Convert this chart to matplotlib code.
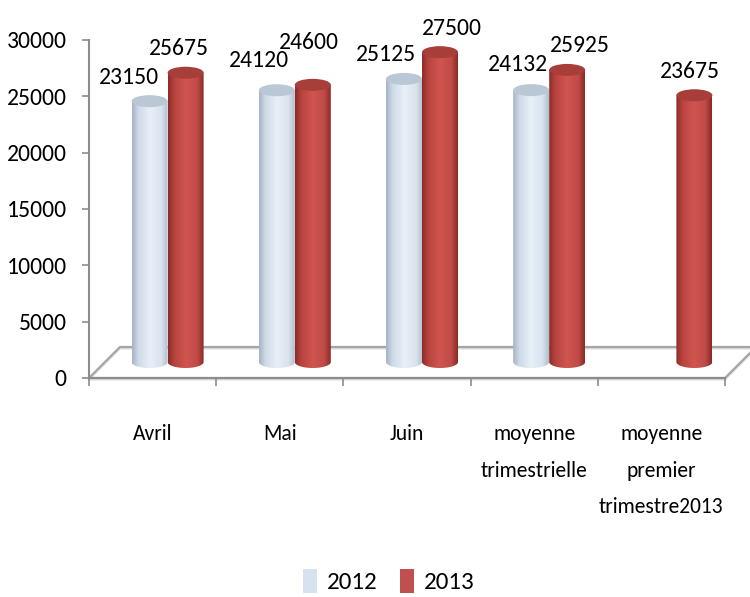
import numpy as np
import matplotlib
matplotlib.use('Agg')
import matplotlib.pyplot as plt
from matplotlib.colors import LinearSegmentedColormap
from matplotlib.patches import Ellipse, Polygon, Patch

plt.rcParams['font.family'] = ['Carlito', 'Liberation Sans', 'DejaVu Sans']

# data
categories = ['Avril', 'Mai', 'Juin', 'moyenne\ntrimestrielle', 'moyenne\npremier\ntrimestre2013']
series = ['2012', '2013']
values_2012 = [23150, 24120, 25125, 24132, None]
values_2013 = [25675, 24600, 27500, 25925, 23675]

# figure geometry (pixels)
W, H = 750, 597
ax_l, ax_r, ax_t, ax_b = 89, 725, 40, 378
fig = plt.figure(figsize=(W / 100, H / 100), dpi=100)
ax = fig.add_axes([ax_l / W, 1 - ax_b / H, (ax_r - ax_l) / W, (ax_b - ax_t) / H])
ax.set_xlim(-0.5, 4.5)
ax.set_ylim(0, 30000)
ux = 5 / (ax_r - ax_l)        # data units per pixel, x
uy = 30000 / (ax_b - ax_t)    # data units per pixel, y

depth = 31                    # floor depth in px
shift_x, base = 15 * ux, 16 * uy
cw = 36 * ux                  # cylinder width
eh = 12 * uy                  # ellipse height

blue_cmap = LinearSegmentedColormap.from_list(
    'b', [(0, '#a3b3c5'), (0.18, '#cfdae7'), (0.5, '#e8f0f8'), (0.82, '#d8e3ee'), (1, '#afbdcc')])
red_cmap = LinearSegmentedColormap.from_list(
    'r', [(0, '#8c2c29'), (0.18, '#b8443f'), (0.5, '#d1554f'), (0.82, '#c04b46'), (1, '#872a27')])
top_colors = ['#bac7d4', '#a83e3a']
cmaps = [blue_cmap, red_cmap]

grad = np.linspace(0, 1, 256)[None, :]


def cylinder(xc, val, cmap, top_color, z):
    x0, x1 = xc - cw / 2, xc + cw / 2
    y0, y1 = base, base + val
    t = np.linspace(np.pi, 2 * np.pi, 60)
    bottom = np.column_stack([xc + cw / 2 * np.cos(t), y0 + eh / 2 * np.sin(t)])
    pts = np.vstack([[x0, y1], bottom, [x1, y1]])
    poly = Polygon(pts, closed=True, facecolor='none', edgecolor='none')
    ax.add_patch(poly)
    im = ax.imshow(grad, cmap=cmap, extent=[x0, x1, y0 - eh / 2, y1], aspect='auto',
                   origin='lower', interpolation='bilinear', zorder=z)
    im.set_clip_path(poly)
    ax.add_patch(Ellipse((xc, y1), cw, eh, facecolor=top_color, edgecolor='none', zorder=z + 0.5))


# floor outline
fx = [-0.5, 4.5, 4.5 + depth * ux, -0.5 + depth * ux, -0.5]
fy = [0, 0, depth * uy, depth * uy, 0]
ax.plot(fx, [y - 1.5 * uy for y in fy], color='#dddddd', lw=1.5, clip_on=False, zorder=1)
ax.plot(fx, fy, color='#a6a6a6', lw=1.6, clip_on=False, zorder=1.5)

# cylinders and labels (label nudges in px, like Excel's 3D placement)
nudge_x = [[-21, -18, -18, -13, 0], [-7, -4, 12, 13, -4]]
nudge_y = [[0, 6, 0, 2, 0], [0, 18, 0, 0, 0]]
all_vals = [values_2012, values_2013]
z = 3
for i in range(len(categories)):
    for s in range(2):
        v = all_vals[s][i]
        if v is None:
            continue
        xc = i + shift_x + (s - 0.5) * cw
        cylinder(xc, v, cmaps[s], top_colors[s], z)
        z += 1
        ax.text(xc + nudge_x[s][i] * ux, base + v + (24 + nudge_y[s][i]) * uy, str(v),
                ha='center', va='center', fontsize=17, color='black', zorder=50)

# axes styling
for sp in ['top', 'right']:
    ax.spines[sp].set_visible(False)
ax.spines['left'].set_color('#8c8c8c')
ax.spines['bottom'].set_color('#8c8c8c')
ax.spines['left'].set_linewidth(1.5)
ax.spines['bottom'].set_linewidth(1.5)
ax.set_yticks(np.arange(0, 30001, 5000))
ax.tick_params(axis='y', length=5, width=1.2, color='#8c8c8c', labelsize=17, pad=11)
ax.set_xticks(np.arange(-0.5, 4.6, 1))
ax.set_xticklabels([])
ax.tick_params(axis='x', which='major', length=6, width=1.2, color='#8c8c8c')
ax.set_xticks(range(len(categories)), minor=True)
ax.set_xticklabels(categories, minor=True, fontsize=15.5, linespacing=2.05, va='top')
ax.tick_params(axis='x', which='minor', length=0, pad=33)

# legend
handles = [Patch(facecolor='#d6e2f0', edgecolor='none'), Patch(facecolor='#c0504d', edgecolor='none')]
fig.legend(handles, series, loc='center', bbox_to_anchor=(389 / W, 1 - 581 / H), ncol=2,
           frameon=False, fontsize=18, handlelength=0.55, handleheight=1.1,
           handletextpad=0.4, columnspacing=0.9)

fig.savefig('out.png', dpi=100)
